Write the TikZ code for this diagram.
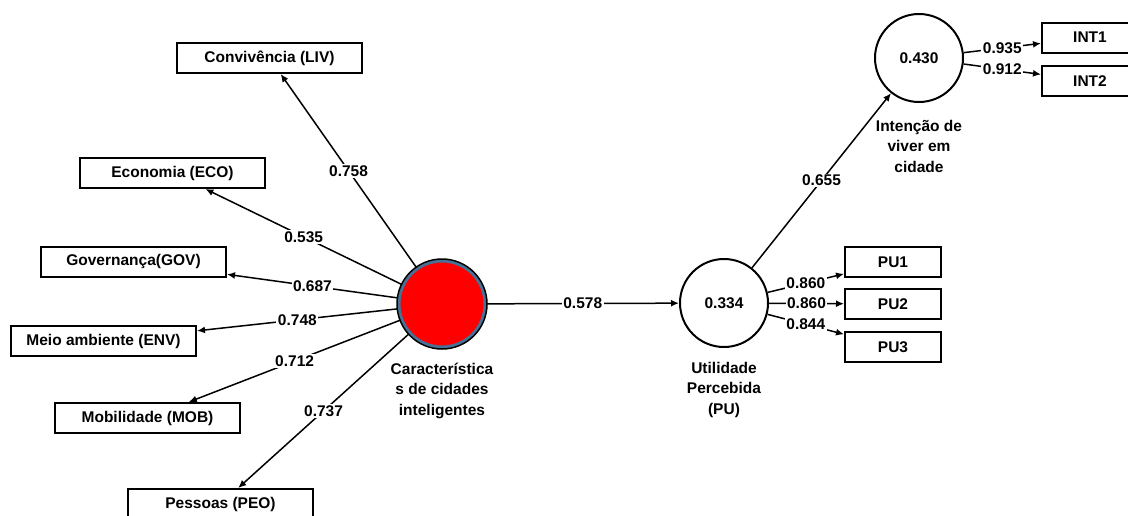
\documentclass[tikz,border=0pt]{standalone}
\usepackage{fontspec}
\setmainfont{Liberation Sans}
\usetikzlibrary{arrows.meta,positioning}
\definecolor{ringblue}{RGB}{72,113,152}

\begin{document}
\begin{tikzpicture}[
    x=1pt, y=-1pt,
    >={Latex[length=8pt,width=7pt]},
    font=\fontsize{15.5}{20.5}\selectfont\bfseries,
    ind/.style={draw, line width=2pt, minimum width=185pt, minimum height=30pt, inner sep=0pt},
    indsm/.style={ind, minimum width=96pt},
    lat/.style={circle, draw, line width=2pt, minimum size=88pt, inner sep=0pt},
    load/.style={->, line width=1.5pt},
    val/.style={fill=white, inner sep=1.5pt},
    lbl/.style={align=center, inner sep=0pt}
]

    % --- 1. Frame ---
    \path[use as bounding box, clip] (0,0) rectangle (1128,515);

    % --- 2. Indicators of the smart city construct ---
    \node[ind] (liv) at (269.5,58) {Convivência (LIV)};
    \node[ind] (eco) at (172.5,173) {Economia (ECO)};
    \node[ind] (gov) at (133.5,261.5) {Governança(GOV)};
    \node[ind] (env) at (103.5,341) {Meio ambiente (ENV)};
    \node[ind] (mob) at (147.5,418) {Mobilidade (MOB)};
    \node[ind] (peo) at (220.5,504) {Pessoas (PEO)};

    % --- 3. Latent variables ---
    \node[lat, fill=red, draw=ringblue, line width=3pt, minimum size=86pt] (csc) at (442,304) {};
    \draw[line width=1.5pt] (csc.center) circle (45pt);
    \node[lat] (pu) at (724,303) {0.334};
    \node[lat] (int) at (919,58) {0.430};

    \node[lbl, below=14pt of csc] (csc_lbl) {Característica\\s de cidades\\inteligentes};
    \node[lbl, below=14pt of pu] (pu_lbl) {Utilidade\\Percebida\\(PU)};
    \node[lbl, below=17pt of int] (int_lbl) {Intenção de\\viver em\\cidade};

    % --- 4. Indicators on the right ---
    \node[indsm] (pu1) at (893,262) {PU1};
    \node[indsm] (pu2) at (893,304) {PU2};
    \node[indsm] (pu3) at (893,347) {PU3};
    \node[indsm] (int1) at (1090,37.5) {INT1};
    \node[indsm] (int2) at (1090,81) {INT2};

    % --- 5. Loadings and paths ---
    \foreach \ind/\val in {liv/0.758, eco/0.535, gov/0.687, env/0.748, mob/0.712, peo/0.737} {
        \draw[load] (csc) -- node[val] {\val} (\ind);
    }

    \draw[load] (csc) -- node[val] {0.578} (pu);
    \draw[load] (pu) -- node[val] {0.655} (int);

    \draw[load] (pu) -- node[val] {0.860} (pu1);
    \draw[load] (pu) -- node[val] {0.860} (pu2);
    \draw[load] (pu) -- node[val] {0.844} (pu3);

    \draw[load] (int) -- node[val] {0.935} (int1);
    \draw[load] (int) -- node[val] {0.912} (int2);

\end{tikzpicture}
\end{document}
